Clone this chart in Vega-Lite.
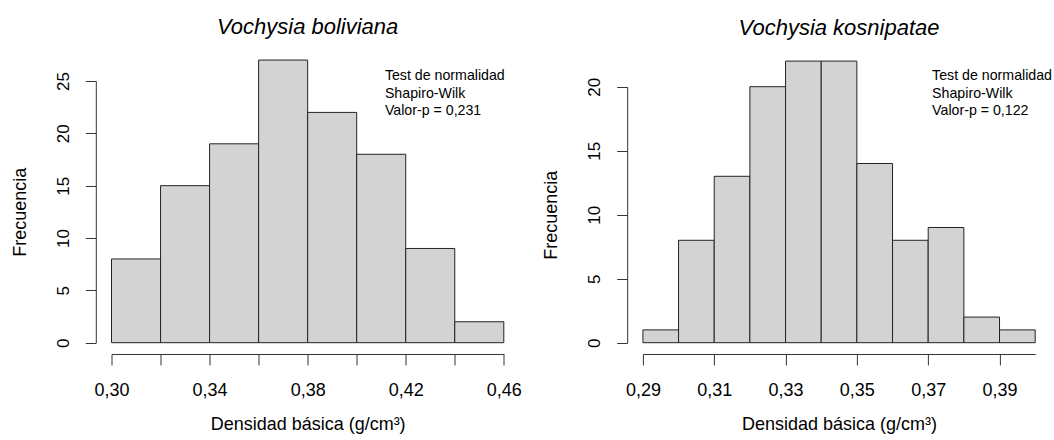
{
  "$schema": "https://vega.github.io/schema/vega-lite/v6.json",
  "background": "white",
  "padding": {"left": 10.5, "top": 15, "right": 0, "bottom": 0},
  "datasets": {
    "boliviana": [
      {"bin_start": 0.30, "bin_end": 0.32, "count": 8},
      {"bin_start": 0.32, "bin_end": 0.34, "count": 15},
      {"bin_start": 0.34, "bin_end": 0.36, "count": 19},
      {"bin_start": 0.36, "bin_end": 0.38, "count": 27},
      {"bin_start": 0.38, "bin_end": 0.40, "count": 22},
      {"bin_start": 0.40, "bin_end": 0.42, "count": 18},
      {"bin_start": 0.42, "bin_end": 0.44, "count": 9},
      {"bin_start": 0.44, "bin_end": 0.46, "count": 2}
    ],
    "kosnipatae": [
      {"bin_start": 0.29, "bin_end": 0.30, "count": 1},
      {"bin_start": 0.30, "bin_end": 0.31, "count": 8},
      {"bin_start": 0.31, "bin_end": 0.32, "count": 13},
      {"bin_start": 0.32, "bin_end": 0.33, "count": 20},
      {"bin_start": 0.33, "bin_end": 0.34, "count": 22},
      {"bin_start": 0.34, "bin_end": 0.35, "count": 22},
      {"bin_start": 0.35, "bin_end": 0.36, "count": 14},
      {"bin_start": 0.36, "bin_end": 0.37, "count": 8},
      {"bin_start": 0.37, "bin_end": 0.38, "count": 9},
      {"bin_start": 0.38, "bin_end": 0.39, "count": 2},
      {"bin_start": 0.39, "bin_end": 0.40, "count": 1}
    ]
  },
  "config": {
    "font": "Liberation Sans",
    "view": {"stroke": null},
    "concat": {"spacing": 20.4},
    "title": {"fontSize": 22, "fontStyle": "italic", "fontWeight": "normal", "color": "black", "anchor": "middle", "frame": "group", "offset": 21},
    "axis": {
      "grid": false,
      "domainColor": "#333",
      "tickColor": "#333",
      "domainWidth": 1,
      "tickWidth": 1,
      "labelColor": "black",
      "titleColor": "black",
      "titleFontWeight": "normal",
      "titleFontSize": 18
    },
    "axisX": {"offset": 11.3, "tickSize": 11, "labelFontSize": 18, "labelPadding": 17, "titlePadding": 16, "labelFlush": false, "labelOverlap": false},
    "axisY": {"offset": 15.7, "tickSize": 10.5, "labelFontSize": 17, "labelAngle": -90, "labelPadding": 12.7, "titlePadding": 25.5, "labelOverlap": false}
  },
  "hconcat": [
    {
      "title": "Vochysia boliviana",
      "width": 392.3,
      "height": 261.7,
      "layer": [
        {
          "data": {"name": "boliviana"},
          "mark": {"type": "rect", "fill": "#D3D3D3", "stroke": "#222", "strokeWidth": 1},
          "encoding": {
            "x": {
              "field": "bin_start", "type": "quantitative",
              "scale": {"domain": [0.30, 0.46], "nice": false, "zero": false},
              "axis": {
                "title": "Densidad básica (g/cm³)",
                "values": [0.30, 0.32, 0.34, 0.36, 0.38, 0.40, 0.42, 0.44, 0.46],
                "labelExpr": "round(datum.value * 100) % 4 == 2 ? replace(format(datum.value, '.2f'), '.', ',') : ''"
              }
            },
            "x2": {"field": "bin_end"},
            "y": {
              "field": "count", "type": "quantitative",
              "scale": {"domain": [0, 25], "nice": false},
              "axis": {"title": "Frecuencia", "values": [0, 5, 10, 15, 20, 25]}
            },
            "y2": {"datum": 0}
          }
        },
        {
          "data": {"values": [{}]},
          "mark": {"type": "text", "text": ["Test de normalidad", "Shapiro-Wilk", "Valor-p = 0,231"], "align": "left", "baseline": "alphabetic", "fontSize": 14.2, "lineHeight": 17.5, "color": "black"},
          "encoding": {
            "x": {"datum": 0.4115, "type": "quantitative"},
            "y": {"datum": 25.09, "type": "quantitative"}
          }
        }
      ]
    },
    {
      "title": "Vochysia kosnipatae",
      "width": 392.3,
      "height": 261.7,
      "layer": [
        {
          "data": {"name": "kosnipatae"},
          "mark": {"type": "rect", "fill": "#D3D3D3", "stroke": "#222", "strokeWidth": 1},
          "encoding": {
            "x": {
              "field": "bin_start", "type": "quantitative",
              "scale": {"domain": [0.29, 0.40], "nice": false, "zero": false},
              "axis": {
                "title": "Densidad básica (g/cm³)",
                "values": [0.29, 0.30, 0.31, 0.32, 0.33, 0.34, 0.35, 0.36, 0.37, 0.38, 0.39, 0.40],
                "labelExpr": "round(datum.value * 100) % 2 == 1 ? replace(format(datum.value, '.2f'), '.', ',') : ''"
              }
            },
            "x2": {"field": "bin_end"},
            "y": {
              "field": "count", "type": "quantitative",
              "scale": {"domain": [0, 20], "nice": false, "range": [261.7, 5.7]},
              "axis": {"title": "Frecuencia", "values": [0, 5, 10, 15, 20]}
            },
            "y2": {"datum": 0}
          }
        },
        {
          "data": {"values": [{}]},
          "mark": {"type": "text", "text": ["Test de normalidad", "Shapiro-Wilk", "Valor-p = 0,122"], "align": "left", "baseline": "alphabetic", "fontSize": 14.2, "lineHeight": 17.5, "color": "black"},
          "encoding": {
            "x": {"datum": 0.3711, "type": "quantitative"},
            "y": {"datum": 20.52, "type": "quantitative"}
          }
        }
      ]
    }
  ]
}
